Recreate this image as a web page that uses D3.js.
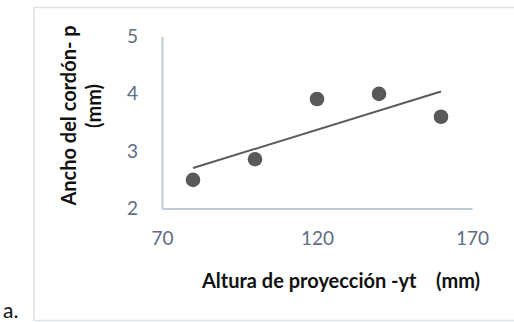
<!DOCTYPE html>
<html>
<head>
<meta charset="utf-8">
<script src="https://cdn.jsdelivr.net/npm/d3@7/dist/d3.min.js"></script>
<style>
  html, body { margin: 0; padding: 0; background: #fff; }
  svg { display: block; }
  text { font-family: Lato, "Noto Sans", sans-serif; }
</style>
</head>
<body>
<script>
// Projection height (mm) vs. bead width (mm)
const alturas = [80, 100, 120, 140, 160];
const anchos = [2.5, 2.86, 3.91, 4.0, 3.6];
const xTicks = [70, 120, 170];
const yTicks = [2, 3, 4, 5];
const xTitle = "Altura de proyección -yt    (mm)";
const yTitleLines = ["Ancho del cordón- p", "(mm)"];

const W = 514, H = 322;
const svg = d3.select("body").append("svg").attr("width", W).attr("height", H);

// chart frame
svg.append("rect")
  .attr("x", 34).attr("y", 7.5).attr("width", 500).attr("height", 313)
  .attr("fill", "#fff").attr("stroke", "#dde2e8").attr("stroke-width", 1.5);

// panel label
svg.append("text").attr("x", 3).attr("y", 318)
  .attr("font-size", 21).attr("fill", "#111").text("a.");

const x = d3.scaleLinear().domain([70, 170]).range([162, 472]);
const y = d3.scaleLinear().domain([2, 5]).range([208.5, 36.5]);

const axisColor = "#bfcad8";
const tickColor = "#5d6d84";

// axes lines (no tick marks)
const xAxis = svg.append("g").attr("transform", `translate(0,${y(2)})`)
  .call(d3.axisBottom(x).tickValues(xTicks).tickSize(0).tickPadding(23).tickFormat(d3.format("d")));
const yAxis = svg.append("g").attr("transform", `translate(${x(70)},0)`)
  .call(d3.axisLeft(y).tickValues(yTicks).tickSize(0).tickPadding(24).tickFormat(d3.format("d")));
[xAxis, yAxis].forEach(g => {
  g.select(".domain").attr("stroke", axisColor).attr("stroke-width", 2);
  g.selectAll("text").attr("font-size", 19).attr("fill", tickColor)
    .attr("font-family", "Lato, 'Noto Sans', sans-serif");
});

// least-squares trend line
const mx = d3.mean(alturas), my = d3.mean(anchos);
const slope = d3.sum(alturas, (v, i) => (v - mx) * (anchos[i] - my)) /
              d3.sum(alturas, v => (v - mx) * (v - mx));
const fit = v => my + slope * (v - mx);
const ends = d3.extent(alturas);
svg.append("line")
  .attr("x1", x(ends[0])).attr("y1", y(fit(ends[0])))
  .attr("x2", x(ends[1])).attr("y2", y(fit(ends[1])))
  .attr("stroke", "#5a5a5a").attr("stroke-width", 2);

// data points
svg.append("g").selectAll("circle")
  .data(alturas.map((a, i) => [a, anchos[i]]))
  .join("circle")
  .attr("cx", d => x(d[0])).attr("cy", d => y(d[1])).attr("r", 7.3)
  .attr("fill", "#595959");

// axis titles
svg.append("text").attr("x", 341).attr("y", 288)
  .attr("text-anchor", "middle").attr("font-size", 20).attr("font-weight", 700)
  .attr("fill", "#111").style("white-space", "pre").text(xTitle);

const yCenters = [115.5, 106];
const yBase = [76, 101];
yTitleLines.forEach((t, i) => {
  svg.append("text")
    .attr("transform", `translate(${yBase[i]},${yCenters[i]}) rotate(-90)`)
    .attr("text-anchor", "middle").attr("font-size", 20).attr("font-weight", 700)
    .attr("fill", "#111").text(t);
});
</script>
</body>
</html>
